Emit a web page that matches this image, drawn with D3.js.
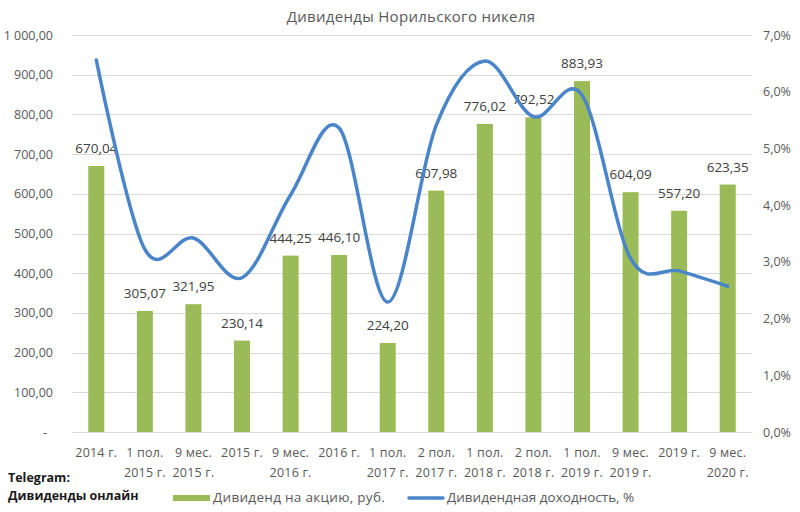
<!DOCTYPE html>
<html><head><meta charset="utf-8">
<script src="https://cdn.jsdelivr.net/npm/d3@7"></script>
<style>body{margin:0;background:#fff}svg{display:block}</style>
</head><body>
<svg id="c" width="800" height="512"></svg>
<script>
const categories = [
  ["2014 г."], ["1 пол.", "2015 г."], ["9 мес.", "2015 г."], ["2015 г."],
  ["9 мес.", "2016 г."], ["2016 г."], ["1 пол.", "2017 г."], ["2 пол.", "2017 г."],
  ["1 пол.", "2018 г."], ["2 пол.", "2018 г."], ["1 пол.", "2019 г."], ["9 мес.", "2019 г."],
  ["2019 г."], ["9 мес.", "2020 г."]
];
const dividends = [670.04, 305.07, 321.95, 230.14, 444.25, 446.10, 224.20, 607.98, 776.02, 792.52, 883.93, 604.09, 557.20, 623.35];
const yields = [6.56, 3.22, 3.42, 2.72, 4.18, 5.36, 2.29, 5.41, 6.54, 5.56, 5.94, 3.06, 2.84, 2.57];
const leftTicks = [0, 100, 200, 300, 400, 500, 600, 700, 800, 900, 1000];
const rightTicks = [0, 1, 2, 3, 4, 5, 6, 7];
const title = "Дивиденды Норильского никеля";
const seriesNames = ["Дивиденд на акцию, руб.", "Дивидендная доходность, %"];
const sourceLines = ["Telegram:", "Дивиденды онлайн"];

const ru = d3.formatLocale({decimal: ",", thousands: " ", grouping: [3], currency: ["", " руб."]});
const fmt2 = ru.format(",.2f");
const fmtPct = ru.format(".1f");

const svg = d3.select("#c");
const FONT = "'Open Sans', 'Noto Sans', sans-serif";
const L = 72, R = 752, T = 35, B = 432;

const x = d3.scaleBand().domain(d3.range(categories.length)).range([L, R]);
const yL = d3.scaleLinear().domain([0, 1000]).range([B, T]);
const yR = d3.scaleLinear().domain([0, 7]).range([B, T]);

// gridlines
svg.append("g").selectAll("line").data(leftTicks).join("line")
  .attr("x1", L).attr("x2", R)
  .attr("y1", d => Math.round(yL(d)) + 0.5).attr("y2", d => Math.round(yL(d)) + 0.5)
  .attr("stroke", "#d9d9d9").attr("stroke-width", 1);

// left axis labels
const axL = d3.axisLeft(yL).tickValues(leftTicks).tickSize(0).tickPadding(0)
  .tickFormat(d => d === 0 ? "-" : fmt2(d));
const gL = svg.append("g").attr("transform", `translate(${L - 19},0)`).call(axL);
gL.select(".domain").remove();
gL.selectAll("text").attr("font-family", FONT).attr("font-size", 12.5).attr("fill", "#595959")
  .attr("dx", d => d === 0 ? -6 : 0);

// right axis labels
const axR = d3.axisRight(yR).tickValues(rightTicks).tickSize(0).tickPadding(0)
  .tickFormat(d => fmtPct(d) + "%");
const gR = svg.append("g").attr("transform", `translate(${R + 11},0)`).call(axR);
gR.select(".domain").remove();
gR.selectAll("text").attr("font-family", FONT).attr("font-size", 12.5).attr("fill", "#595959");

// bars
const bw = 16;
svg.append("g").selectAll("rect").data(dividends).join("rect")
  .attr("x", (d, i) => x(i) + x.bandwidth() / 2 - bw / 2)
  .attr("width", bw)
  .attr("y", d => yL(d))
  .attr("height", d => B - yL(d))
  .attr("fill", "#9bbb59");

// data labels
svg.append("g").selectAll("text").data(dividends).join("text")
  .attr("x", (d, i) => x(i) + x.bandwidth() / 2)
  .attr("y", d => yL(d) - 13)
  .attr("text-anchor", "middle")
  .attr("font-family", FONT).attr("font-size", 13.5).attr("fill", "#404040")
  .text(d => fmt2(d));

// line
const line = d3.line()
  .x((d, i) => x(i) + x.bandwidth() / 2)
  .y(d => yR(d))
  .curve(d3.curveCardinal.tension(0));
svg.append("path").datum(yields)
  .attr("d", line).attr("fill", "none")
  .attr("stroke", "#4a84c9").attr("stroke-width", 3.5).attr("stroke-linecap", "round");

// x labels
const gx = svg.append("g");
categories.forEach((lines, i) => {
  const t = gx.append("text")
    .attr("x", x(i) + x.bandwidth() / 2).attr("y", 457)
    .attr("text-anchor", "middle")
    .attr("font-family", FONT).attr("font-size", 12.5).attr("letter-spacing", 0.2).attr("fill", "#595959");
  lines.forEach((s, j) => t.append("tspan").attr("x", x(i) + x.bandwidth() / 2).attr("dy", j === 0 ? 0 : 20).text(s));
});

// title
svg.append("text").attr("x", 411).attr("y", 22).attr("text-anchor", "middle")
  .attr("font-family", FONT).attr("font-size", 15).attr("letter-spacing", 0.3).attr("fill", "#595959").text(title);

// source text
svg.append("g").selectAll("text").data(sourceLines).join("text")
  .attr("x", 8).attr("y", (d, i) => 482 + i * 18)
  .attr("font-family", FONT).attr("font-size", 12.5).attr("font-weight", "bold").attr("fill", "#1a1a1a")
  .text(d => d);

// legend
const lg = svg.append("g");
lg.append("rect").attr("x", 173).attr("y", 495).attr("width", 37).attr("height", 6).attr("fill", "#9bbb59");
lg.append("text").attr("x", 213).attr("y", 502).attr("font-family", FONT).attr("font-size", 13.5)
  .attr("letter-spacing", 0.3).attr("fill", "#595959").text(seriesNames[0]);
lg.append("line").attr("x1", 409).attr("x2", 443).attr("y1", 498).attr("y2", 498)
  .attr("stroke", "#4a84c9").attr("stroke-width", 3.5).attr("stroke-linecap", "round");
lg.append("text").attr("x", 447).attr("y", 502).attr("font-family", FONT).attr("font-size", 13.5)
  .attr("fill", "#595959").text(seriesNames[1]);
</script>
</body></html>
